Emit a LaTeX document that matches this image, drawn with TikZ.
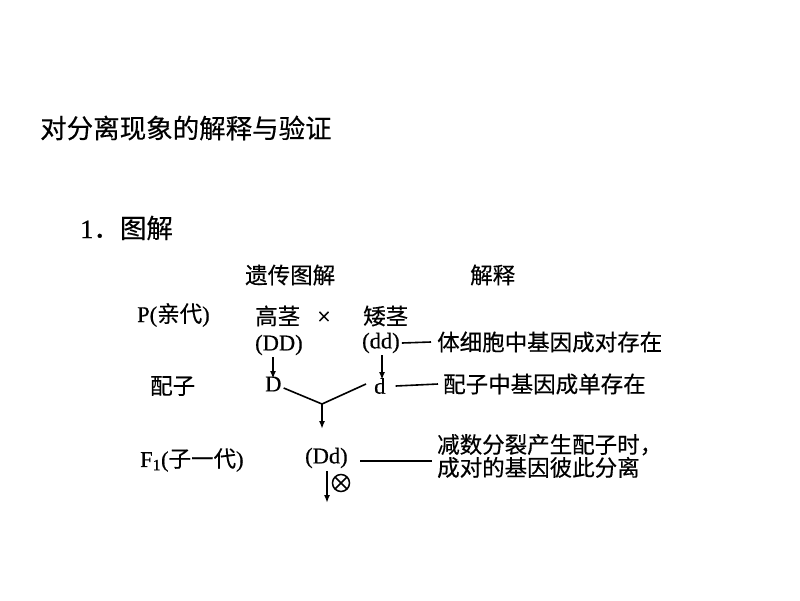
\documentclass[tikz,border=0pt]{standalone}
\usepackage{fontspec}
\setmainfont{Liberation Serif}[FakeBold=0.6]
\newfontfamily\cjk{Noto Sans CJK SC}[FakeBold=0.4]
\usetikzlibrary{arrows.meta}
\tikzset{
  txt/.style={inner sep=0pt, anchor=west, font=\fontsize{22.5}{24}\selectfont},
  big/.style={inner sep=0pt, anchor=west, font=\fontsize{26.5}{28}\selectfont},
  arr/.style={-{Latex[length=8pt,width=6pt]}, line width=1.6pt},
  ln/.style={line width=1.6pt},
}
\begin{document}
\begin{tikzpicture}[x=1pt,y=-1pt]
\useasboundingbox (0,0) rectangle (800,600);
\node[big] (title) at (40,128) {\cjk 对分离现象的解释与验证};
\node[big] (sec) at (80,228) {1{\cjk ．图解}};
\node[txt] (h1) at (245,275) {\cjk 遗传图解};
\node[txt] (h2) at (470,275) {\cjk 解释};
\node[txt] (P) at (137,315) {P({\cjk 亲代})};
\node[txt] (tall) at (255,316) {\cjk 高茎};
\node[txt, font=\fontsize{24}{24}\selectfont] (x) at (317,318) {×};
\node[txt] (short) at (363,316) {\cjk 矮茎};
\node[txt] (DD) at (255,345) {(DD)};
\node[txt] (dd) at (362,343) {(dd)};
\node[txt] (e1) at (437,342) {\cjk 体细胞中基因成对存在};
\node[txt] (gam) at (150,386) {\cjk 配子};
\node[txt] (D) at (265,384) {D};
\node[txt] (d) at (374,386) {d};
\node[txt] (e2) at (443,384) {\cjk 配子中基因成单存在};
\node[txt] (F1) at (140,460) {F\textsubscript{1}({\cjk 子一代})};
\node[txt] (Dd) at (305,458) {(Dd)};
\node[txt, align=left] (e3) at (437,456) {{\cjk 减数分裂产生配子时，}\\[-1pt]{\cjk 成对的基因彼此分离}};
\node[circle, draw, line width=1.5pt, minimum size=17pt, inner sep=0pt,
  path picture={\draw[line width=1.5pt] (path picture bounding box.north west) -- (path picture bounding box.south east)
  (path picture bounding box.north east) -- (path picture bounding box.south west);}] (self) at (341,483) {};
\coordinate (v) at (322,404);
\coordinate (vend) at (322,429);
\coordinate (bend) at (327,503);
\coordinate (l3a) at (360,461);
\coordinate (l3b) at (432,461);
\draw[arr] (DD.south -| 273,0) ++(0,2) -- (273,379);
\draw[arr] (dd.south -| 382,0) ++(0,2) -- (382,380);
\draw[ln] (D.east) ++(2,4) -- (v) -- ([xshift=-8pt,yshift=2pt]d.west);
\draw[arr] (v) -- (vend);
\draw[arr] (Dd.south -| bend) ++(0,3) -- (bend);
\draw[ln] ([xshift=2pt]dd.east) -- ([xshift=-6pt]e1.west);
\draw[ln] ([xshift=10pt]d.east) -- ([xshift=-5pt]e2.west);
\draw[ln] (l3a) -- (l3b);
\end{tikzpicture}
\end{document}
